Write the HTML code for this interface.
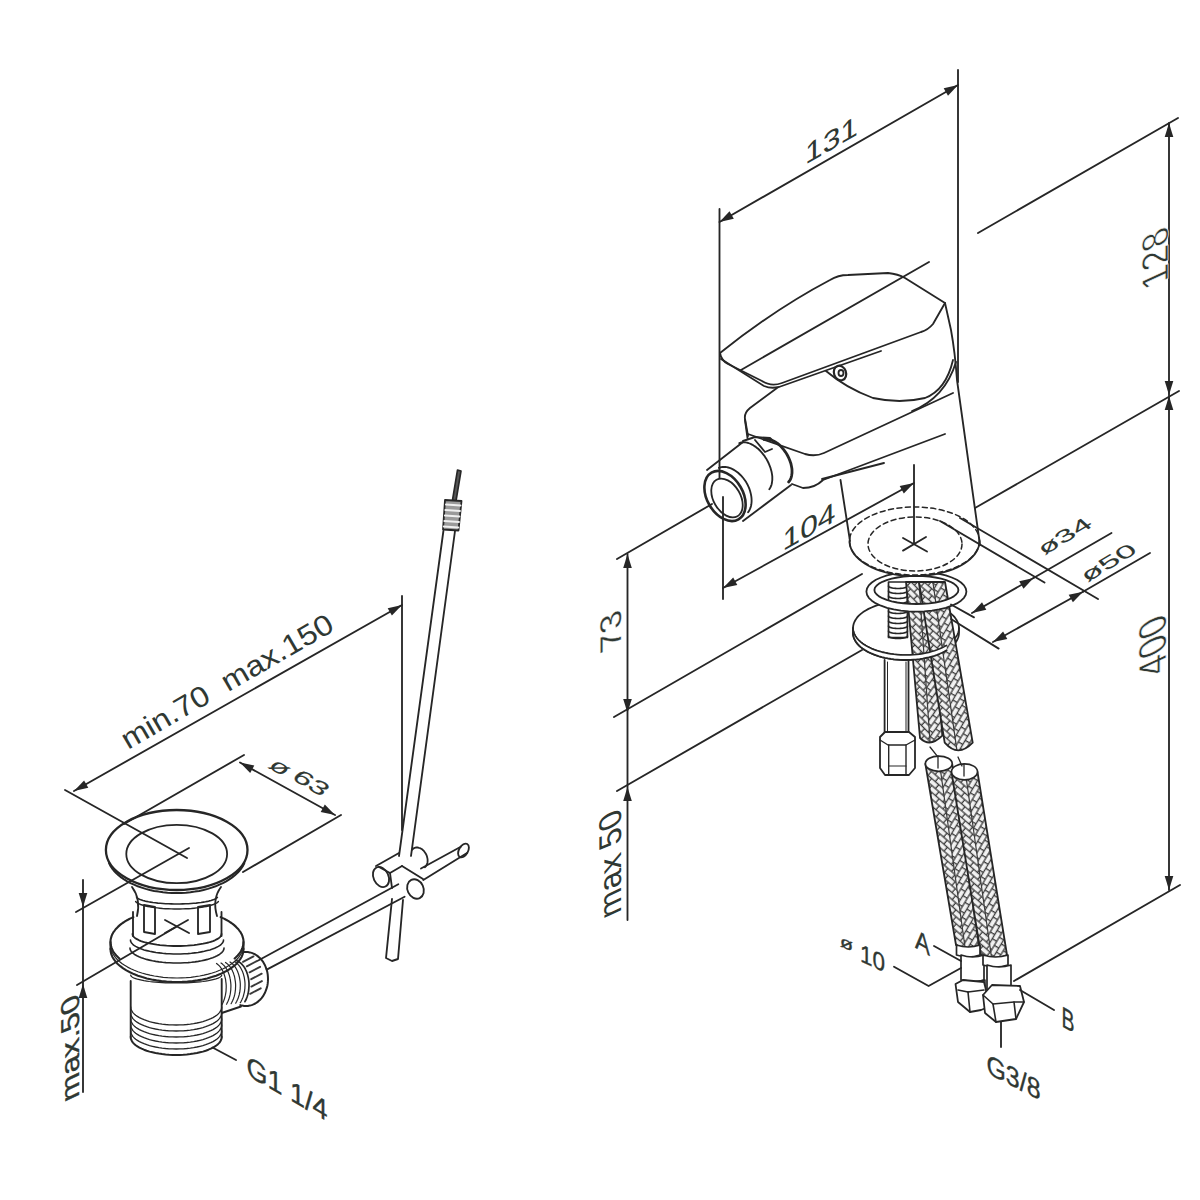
<!DOCTYPE html>
<html><head><meta charset="utf-8"><style>
html,body{margin:0;padding:0;background:#fff;}
svg{display:block;}
text{font-family:"Liberation Sans",sans-serif;}
</style></head><body>
<svg width="1200" height="1200" viewBox="0 0 1200 1200" stroke-linecap="round" stroke-linejoin="round">
<defs><clipPath id="h0"><path d="M906,582 L931,582 L942.3,735.7 Q930,748 920,738Z"/></clipPath><pattern id="p0L" patternUnits="userSpaceOnUse" width="9.5" height="10.4" patternTransform="translate(918.5 582) rotate(45.3)"><rect width="9.5" height="10.4" fill="#3c3c3c"/><rect x="0" y="0.65" width="8.2" height="3.9000000000000004" fill="#f2f2f2"/><rect x="4.75" y="5.8500000000000005" width="8.2" height="3.9000000000000004" fill="#f2f2f2"/><rect x="-4.75" y="5.8500000000000005" width="8.2" height="3.9000000000000004" fill="#f2f2f2"/></pattern><pattern id="p0R" patternUnits="userSpaceOnUse" width="9.5" height="10.4" patternTransform="translate(918.5 582) rotate(-54.7)"><rect width="9.5" height="10.4" fill="#3c3c3c"/><rect x="0" y="0.65" width="8.2" height="3.9000000000000004" fill="#f2f2f2"/><rect x="4.75" y="5.8500000000000005" width="8.2" height="3.9000000000000004" fill="#f2f2f2"/><rect x="-4.75" y="5.8500000000000005" width="8.2" height="3.9000000000000004" fill="#f2f2f2"/></pattern><clipPath id="h0L"><polygon points="900,576 918.5,576 931.1,756.9 914,758"/></clipPath><clipPath id="h0R"><polygon points="918.5,576 937,576 948.3,755.7 931.1,756.9"/></clipPath><clipPath id="h1"><path d="M919,582 L945,582 L972.7,742.7 Q958,758 944.7,742.7Z"/></clipPath><pattern id="p1L" patternUnits="userSpaceOnUse" width="9.5" height="10.4" patternTransform="translate(932 582) rotate(40.6)"><rect width="9.5" height="10.4" fill="#3c3c3c"/><rect x="0" y="0.65" width="8.2" height="3.9000000000000004" fill="#f2f2f2"/><rect x="4.75" y="5.8500000000000005" width="8.2" height="3.9000000000000004" fill="#f2f2f2"/><rect x="-4.75" y="5.8500000000000005" width="8.2" height="3.9000000000000004" fill="#f2f2f2"/></pattern><pattern id="p1R" patternUnits="userSpaceOnUse" width="9.5" height="10.4" patternTransform="translate(932 582) rotate(-59.4)"><rect width="9.5" height="10.4" fill="#3c3c3c"/><rect x="0" y="0.65" width="8.2" height="3.9000000000000004" fill="#f2f2f2"/><rect x="4.75" y="5.8500000000000005" width="8.2" height="3.9000000000000004" fill="#f2f2f2"/><rect x="-4.75" y="5.8500000000000005" width="8.2" height="3.9000000000000004" fill="#f2f2f2"/></pattern><clipPath id="h1L"><polygon points="913,576 932,576 958.7,762.7 938.7,762.7"/></clipPath><clipPath id="h1R"><polygon points="932,576 951,576 978.7,762.7 958.7,762.7"/></clipPath><clipPath id="h2"><path d="M925.4,764 L952.2,764 L979,945 Q967.5,951 956,945Z"/></clipPath><pattern id="p2L" patternUnits="userSpaceOnUse" width="9.5" height="10.4" patternTransform="translate(938.8 764) rotate(41)"><rect width="9.5" height="10.4" fill="#3c3c3c"/><rect x="0" y="0.65" width="8.2" height="3.9000000000000004" fill="#f2f2f2"/><rect x="4.75" y="5.8500000000000005" width="8.2" height="3.9000000000000004" fill="#f2f2f2"/><rect x="-4.75" y="5.8500000000000005" width="8.2" height="3.9000000000000004" fill="#f2f2f2"/></pattern><pattern id="p2R" patternUnits="userSpaceOnUse" width="9.5" height="10.4" patternTransform="translate(938.8 764) rotate(-59)"><rect width="9.5" height="10.4" fill="#3c3c3c"/><rect x="0" y="0.65" width="8.2" height="3.9000000000000004" fill="#f2f2f2"/><rect x="4.75" y="5.8500000000000005" width="8.2" height="3.9000000000000004" fill="#f2f2f2"/><rect x="-4.75" y="5.8500000000000005" width="8.2" height="3.9000000000000004" fill="#f2f2f2"/></pattern><clipPath id="h2L"><polygon points="919.4,758 938.8,758 967.5,965 950,965"/></clipPath><clipPath id="h2R"><polygon points="938.8,758 958.2,758 985,965 967.5,965"/></clipPath><clipPath id="h3"><path d="M951.5,772 L977.5,772 L1007,955 Q994,961 981,955Z"/></clipPath><pattern id="p3L" patternUnits="userSpaceOnUse" width="9.5" height="10.4" patternTransform="translate(964.5 772) rotate(40.8)"><rect width="9.5" height="10.4" fill="#3c3c3c"/><rect x="0" y="0.65" width="8.2" height="3.9000000000000004" fill="#f2f2f2"/><rect x="4.75" y="5.8500000000000005" width="8.2" height="3.9000000000000004" fill="#f2f2f2"/><rect x="-4.75" y="5.8500000000000005" width="8.2" height="3.9000000000000004" fill="#f2f2f2"/></pattern><pattern id="p3R" patternUnits="userSpaceOnUse" width="9.5" height="10.4" patternTransform="translate(964.5 772) rotate(-59.2)"><rect width="9.5" height="10.4" fill="#3c3c3c"/><rect x="0" y="0.65" width="8.2" height="3.9000000000000004" fill="#f2f2f2"/><rect x="4.75" y="5.8500000000000005" width="8.2" height="3.9000000000000004" fill="#f2f2f2"/><rect x="-4.75" y="5.8500000000000005" width="8.2" height="3.9000000000000004" fill="#f2f2f2"/></pattern><clipPath id="h3L"><polygon points="945.5,766 964.5,766 994,975 975,975"/></clipPath><clipPath id="h3R"><polygon points="964.5,766 983.5,766 1013,975 994,975"/></clipPath></defs>
<rect width="1200" height="1200" fill="#fff"/>

<path d="M853,628 L853.2,625.9 L853.7,623.8 L854.5,621.7 L855.6,619.7 L857,617.7 L858.8,615.7 L860.8,613.9 L863.1,612.1 L865.7,610.5 L868.5,608.9 L871.6,607.5 L874.8,606.2 L878.3,605 L881.9,603.9 L885.7,603.1 L889.6,602.3 L893.6,601.7 L897.7,601.3 L901.8,601.1 L906,601 L910.2,601.1 L914.3,601.3 L918.4,601.7 L922.4,602.3 L926.3,603.1 L930.1,603.9 L933.7,605 L937.2,606.2 L940.4,607.5 L943.5,608.9 L946.3,610.5 L948.9,612.1 L951.2,613.9 L953.2,615.7 L955,617.7 L956.4,619.7 L957.5,621.7 L958.3,623.8 L958.8,625.9 L959,628 L959,633 L958.8,635.1 L958.3,637.2 L957.5,639.3 L956.4,641.3 L955,643.3 L953.2,645.3 L951.2,647.1 L948.9,648.9 L946.3,650.5 L943.5,652.1 L940.4,653.5 L937.2,654.8 L933.7,656 L930.1,657.1 L926.3,657.9 L922.4,658.7 L918.4,659.3 L914.3,659.7 L910.2,659.9 L906,660 L901.8,659.9 L897.7,659.7 L893.6,659.3 L889.6,658.7 L885.7,657.9 L881.9,657.1 L878.3,656 L874.8,654.8 L871.6,653.5 L868.5,652.1 L865.7,650.5 L863.1,648.9 L860.8,647.1 L858.8,645.3 L857,643.3 L855.6,641.3 L854.5,639.3 L853.7,637.2 L853.2,635.1 L853,633Z" stroke="#262626" stroke-width="1.8" fill="#fff" />
<path d="M959,628 L958.8,630.1 L958.3,632.2 L957.5,634.3 L956.4,636.3 L955,638.3 L953.2,640.3 L951.2,642.1 L948.9,643.9 L946.3,645.5 L943.5,647.1 L940.4,648.5 L937.2,649.8 L933.7,651 L930.1,652.1 L926.3,652.9 L922.4,653.7 L918.4,654.3 L914.3,654.7 L910.2,654.9 L906,655 L901.8,654.9 L897.7,654.7 L893.6,654.3 L889.6,653.7 L885.7,652.9 L881.9,652.1 L878.3,651 L874.8,649.8 L871.6,648.5 L868.5,647.1 L865.7,645.5 L863.1,643.9 L860.8,642.1 L858.8,640.3 L857,638.3 L855.6,636.3 L854.5,634.3 L853.7,632.2 L853.2,630.1 L853,628" stroke="#262626" stroke-width="1.6" fill="none"/>
<path d="M884.6,660 L884.6,734" stroke="#262626" stroke-width="1.8" fill="none"/>
<path d="M908.5,660 L908.5,734" stroke="#262626" stroke-width="1.8" fill="none"/>
<line x1="887.5" y1="662" x2="887.5" y2="734" stroke="#262626" stroke-width="1.0"/>
<line x1="906" y1="662" x2="906" y2="734" stroke="#262626" stroke-width="1.0"/>
<path d="M880,737 L885,732 L909,732 L915,737 L915,768 L909,775 L885,775 L880,768Z" stroke="#262626" stroke-width="1.8" fill="#fff"/>
<path d="M880,740 L888,745 L906,745 L915,740" stroke="#262626" stroke-width="1.4" fill="none"/>
<line x1="888.7" y1="745" x2="888.7" y2="775" stroke="#262626" stroke-width="1.4"/>
<line x1="906" y1="745" x2="906" y2="775" stroke="#262626" stroke-width="1.4"/>
<line x1="888.7" y1="766" x2="906" y2="766" stroke="#262626" stroke-width="1.2"/>
<path d="M888.5,582 L888.5,637.5 L907.4,637.5 L907.4,582Z" stroke="#262626" stroke-width="1.7" fill="#fff" />
<path d="M907.5,586 L907.5,586.2 L907.4,586.4 L907.2,586.6 L907,586.8 L906.8,587 L906.5,587.1 L906.1,587.3 L905.7,587.5 L905.2,587.6 L904.7,587.8 L904.2,587.9 L903.6,588 L903,588.1 L902.3,588.2 L901.6,588.3 L900.9,588.4 L900.2,588.4 L899.5,588.5 L898.7,588.5 L898,588.5 L897.3,588.5 L896.5,588.5 L895.8,588.4 L895.1,588.4 L894.4,588.3 L893.7,588.2 L893,588.1 L892.4,588 L891.8,587.9 L891.3,587.8 L890.8,587.6 L890.3,587.5 L889.9,587.3 L889.5,587.1 L889.2,587 L889,586.8 L888.8,586.6 L888.6,586.4 L888.5,586.2 L888.5,586" stroke="#262626" stroke-width="1.6" fill="none"/>
<path d="M907.5,591 L907.5,591.2 L907.4,591.4 L907.2,591.6 L907,591.8 L906.8,592 L906.5,592.1 L906.1,592.3 L905.7,592.5 L905.2,592.6 L904.7,592.8 L904.2,592.9 L903.6,593 L903,593.1 L902.3,593.2 L901.6,593.3 L900.9,593.4 L900.2,593.4 L899.5,593.5 L898.7,593.5 L898,593.5 L897.3,593.5 L896.5,593.5 L895.8,593.4 L895.1,593.4 L894.4,593.3 L893.7,593.2 L893,593.1 L892.4,593 L891.8,592.9 L891.3,592.8 L890.8,592.6 L890.3,592.5 L889.9,592.3 L889.5,592.1 L889.2,592 L889,591.8 L888.8,591.6 L888.6,591.4 L888.5,591.2 L888.5,591" stroke="#262626" stroke-width="1.6" fill="none"/>
<path d="M907.5,596 L907.5,596.2 L907.4,596.4 L907.2,596.6 L907,596.8 L906.8,597 L906.5,597.1 L906.1,597.3 L905.7,597.5 L905.2,597.6 L904.7,597.8 L904.2,597.9 L903.6,598 L903,598.1 L902.3,598.2 L901.6,598.3 L900.9,598.4 L900.2,598.4 L899.5,598.5 L898.7,598.5 L898,598.5 L897.3,598.5 L896.5,598.5 L895.8,598.4 L895.1,598.4 L894.4,598.3 L893.7,598.2 L893,598.1 L892.4,598 L891.8,597.9 L891.3,597.8 L890.8,597.6 L890.3,597.5 L889.9,597.3 L889.5,597.1 L889.2,597 L889,596.8 L888.8,596.6 L888.6,596.4 L888.5,596.2 L888.5,596" stroke="#262626" stroke-width="1.6" fill="none"/>
<path d="M907.5,601 L907.5,601.2 L907.4,601.4 L907.2,601.6 L907,601.8 L906.8,602 L906.5,602.1 L906.1,602.3 L905.7,602.5 L905.2,602.6 L904.7,602.8 L904.2,602.9 L903.6,603 L903,603.1 L902.3,603.2 L901.6,603.3 L900.9,603.4 L900.2,603.4 L899.5,603.5 L898.7,603.5 L898,603.5 L897.3,603.5 L896.5,603.5 L895.8,603.4 L895.1,603.4 L894.4,603.3 L893.7,603.2 L893,603.1 L892.4,603 L891.8,602.9 L891.3,602.8 L890.8,602.6 L890.3,602.5 L889.9,602.3 L889.5,602.1 L889.2,602 L889,601.8 L888.8,601.6 L888.6,601.4 L888.5,601.2 L888.5,601" stroke="#262626" stroke-width="1.6" fill="none"/>
<path d="M907.5,606 L907.5,606.2 L907.4,606.4 L907.2,606.6 L907,606.8 L906.8,607 L906.5,607.1 L906.1,607.3 L905.7,607.5 L905.2,607.6 L904.7,607.8 L904.2,607.9 L903.6,608 L903,608.1 L902.3,608.2 L901.6,608.3 L900.9,608.4 L900.2,608.4 L899.5,608.5 L898.7,608.5 L898,608.5 L897.3,608.5 L896.5,608.5 L895.8,608.4 L895.1,608.4 L894.4,608.3 L893.7,608.2 L893,608.1 L892.4,608 L891.8,607.9 L891.3,607.8 L890.8,607.6 L890.3,607.5 L889.9,607.3 L889.5,607.1 L889.2,607 L889,606.8 L888.8,606.6 L888.6,606.4 L888.5,606.2 L888.5,606" stroke="#262626" stroke-width="1.6" fill="none"/>
<path d="M907.5,611 L907.5,611.2 L907.4,611.4 L907.2,611.6 L907,611.8 L906.8,612 L906.5,612.1 L906.1,612.3 L905.7,612.5 L905.2,612.6 L904.7,612.8 L904.2,612.9 L903.6,613 L903,613.1 L902.3,613.2 L901.6,613.3 L900.9,613.4 L900.2,613.4 L899.5,613.5 L898.7,613.5 L898,613.5 L897.3,613.5 L896.5,613.5 L895.8,613.4 L895.1,613.4 L894.4,613.3 L893.7,613.2 L893,613.1 L892.4,613 L891.8,612.9 L891.3,612.8 L890.8,612.6 L890.3,612.5 L889.9,612.3 L889.5,612.1 L889.2,612 L889,611.8 L888.8,611.6 L888.6,611.4 L888.5,611.2 L888.5,611" stroke="#262626" stroke-width="1.6" fill="none"/>
<path d="M907.5,616 L907.5,616.2 L907.4,616.4 L907.2,616.6 L907,616.8 L906.8,617 L906.5,617.1 L906.1,617.3 L905.7,617.5 L905.2,617.6 L904.7,617.8 L904.2,617.9 L903.6,618 L903,618.1 L902.3,618.2 L901.6,618.3 L900.9,618.4 L900.2,618.4 L899.5,618.5 L898.7,618.5 L898,618.5 L897.3,618.5 L896.5,618.5 L895.8,618.4 L895.1,618.4 L894.4,618.3 L893.7,618.2 L893,618.1 L892.4,618 L891.8,617.9 L891.3,617.8 L890.8,617.6 L890.3,617.5 L889.9,617.3 L889.5,617.1 L889.2,617 L889,616.8 L888.8,616.6 L888.6,616.4 L888.5,616.2 L888.5,616" stroke="#262626" stroke-width="1.6" fill="none"/>
<path d="M907.5,621 L907.5,621.2 L907.4,621.4 L907.2,621.6 L907,621.8 L906.8,622 L906.5,622.1 L906.1,622.3 L905.7,622.5 L905.2,622.6 L904.7,622.8 L904.2,622.9 L903.6,623 L903,623.1 L902.3,623.2 L901.6,623.3 L900.9,623.4 L900.2,623.4 L899.5,623.5 L898.7,623.5 L898,623.5 L897.3,623.5 L896.5,623.5 L895.8,623.4 L895.1,623.4 L894.4,623.3 L893.7,623.2 L893,623.1 L892.4,623 L891.8,622.9 L891.3,622.8 L890.8,622.6 L890.3,622.5 L889.9,622.3 L889.5,622.1 L889.2,622 L889,621.8 L888.8,621.6 L888.6,621.4 L888.5,621.2 L888.5,621" stroke="#262626" stroke-width="1.6" fill="none"/>
<path d="M907.5,626 L907.5,626.2 L907.4,626.4 L907.2,626.6 L907,626.8 L906.8,627 L906.5,627.1 L906.1,627.3 L905.7,627.5 L905.2,627.6 L904.7,627.8 L904.2,627.9 L903.6,628 L903,628.1 L902.3,628.2 L901.6,628.3 L900.9,628.4 L900.2,628.4 L899.5,628.5 L898.7,628.5 L898,628.5 L897.3,628.5 L896.5,628.5 L895.8,628.4 L895.1,628.4 L894.4,628.3 L893.7,628.2 L893,628.1 L892.4,628 L891.8,627.9 L891.3,627.8 L890.8,627.6 L890.3,627.5 L889.9,627.3 L889.5,627.1 L889.2,627 L889,626.8 L888.8,626.6 L888.6,626.4 L888.5,626.2 L888.5,626" stroke="#262626" stroke-width="1.6" fill="none"/>
<path d="M907.5,631 L907.5,631.2 L907.4,631.4 L907.2,631.6 L907,631.8 L906.8,632 L906.5,632.1 L906.1,632.3 L905.7,632.5 L905.2,632.6 L904.7,632.8 L904.2,632.9 L903.6,633 L903,633.1 L902.3,633.2 L901.6,633.3 L900.9,633.4 L900.2,633.4 L899.5,633.5 L898.7,633.5 L898,633.5 L897.3,633.5 L896.5,633.5 L895.8,633.4 L895.1,633.4 L894.4,633.3 L893.7,633.2 L893,633.1 L892.4,633 L891.8,632.9 L891.3,632.8 L890.8,632.6 L890.3,632.5 L889.9,632.3 L889.5,632.1 L889.2,632 L889,631.8 L888.8,631.6 L888.6,631.4 L888.5,631.2 L888.5,631" stroke="#262626" stroke-width="1.6" fill="none"/>
<path d="M907.5,636 L907.5,636.2 L907.4,636.4 L907.2,636.6 L907,636.8 L906.8,637 L906.5,637.1 L906.1,637.3 L905.7,637.5 L905.2,637.6 L904.7,637.8 L904.2,637.9 L903.6,638 L903,638.1 L902.3,638.2 L901.6,638.3 L900.9,638.4 L900.2,638.4 L899.5,638.5 L898.7,638.5 L898,638.5 L897.3,638.5 L896.5,638.5 L895.8,638.4 L895.1,638.4 L894.4,638.3 L893.7,638.2 L893,638.1 L892.4,638 L891.8,637.9 L891.3,637.8 L890.8,637.6 L890.3,637.5 L889.9,637.3 L889.5,637.1 L889.2,637 L889,636.8 L888.8,636.6 L888.6,636.4 L888.5,636.2 L888.5,636" stroke="#262626" stroke-width="1.6" fill="none"/>
<g clip-path="url(#h0)"><rect x="0" y="0" width="1200" height="1200" fill="url(#p0L)" clip-path="url(#h0L)"/><rect x="0" y="0" width="1200" height="1200" fill="url(#p0R)" clip-path="url(#h0R)"/><line x1="918.5" y1="576" x2="931.1" y2="756.9" stroke="#3c3c3c" stroke-width="1.2"/></g>
<path d="M906,582 L931,582 L942.3,735.7 Q930,748 920,738Z" fill="none" stroke="#262626" stroke-width="1.8"/>
<g clip-path="url(#h1)"><rect x="0" y="0" width="1200" height="1200" fill="url(#p1L)" clip-path="url(#h1L)"/><rect x="0" y="0" width="1200" height="1200" fill="url(#p1R)" clip-path="url(#h1R)"/><line x1="932" y1="576" x2="958.7" y2="762.7" stroke="#3c3c3c" stroke-width="1.2"/></g>
<path d="M919,582 L945,582 L972.7,742.7 Q958,758 944.7,742.7Z" fill="none" stroke="#262626" stroke-width="1.8"/>
<path d="M853,628 L853.1,629.6 L853.4,631.3 L853.9,632.9 L854.6,634.5 L855.5,636.1 L856.5,637.7 L857.8,639.2 L859.2,640.7 L860.8,642.1 L862.6,643.5 L864.5,644.8 L866.6,646.1 L868.9,647.3 L871.2,648.4 L873.7,649.4 L876.4,650.4 L879.1,651.3 L881.9,652.1 L884.9,652.8 L887.9,653.4 L890.9,653.9 L894.1,654.3 L897.3,654.6 L900.5,654.9 L903.7,655 L906.9,655 L910.2,654.9 L913.4,654.7 L916.6,654.5 L919.7,654.1 L922.8,653.6 L925.9,653 L928.8,652.4 L931.7,651.6 L934.5,650.8 L937.2,649.8 L939.7,648.8 L942.1,647.7 L944.4,646.6 L946.6,645.4 L946.6,650.4 L944.4,651.6 L942.1,652.7 L939.7,653.8 L937.2,654.8 L934.5,655.8 L931.7,656.6 L928.8,657.4 L925.9,658 L922.8,658.6 L919.7,659.1 L916.6,659.5 L913.4,659.7 L910.2,659.9 L906.9,660 L903.7,660 L900.5,659.9 L897.3,659.6 L894.1,659.3 L890.9,658.9 L887.9,658.4 L884.9,657.8 L881.9,657.1 L879.1,656.3 L876.4,655.4 L873.7,654.4 L871.2,653.4 L868.9,652.3 L866.6,651.1 L864.5,649.8 L862.6,648.5 L860.8,647.1 L859.2,645.7 L857.8,644.2 L856.5,642.7 L855.5,641.1 L854.6,639.5 L853.9,637.9 L853.4,636.3 L853.1,634.6 L853,633Z" stroke="#262626" stroke-width="0" fill="#fff" />
<path d="M946.6,650.4 L944.4,651.6 L942.1,652.7 L939.7,653.8 L937.2,654.8 L934.5,655.8 L931.7,656.6 L928.8,657.4 L925.9,658 L922.8,658.6 L919.7,659.1 L916.6,659.5 L913.4,659.7 L910.2,659.9 L906.9,660 L903.7,660 L900.5,659.9 L897.3,659.6 L894.1,659.3 L890.9,658.9 L887.9,658.4 L884.9,657.8 L881.9,657.1 L879.1,656.3 L876.4,655.4 L873.7,654.4 L871.2,653.4 L868.9,652.3 L866.6,651.1 L864.5,649.8 L862.6,648.5 L860.8,647.1 L859.2,645.7 L857.8,644.2 L856.5,642.7 L855.5,641.1 L854.6,639.5 L853.9,637.9 L853.4,636.3 L853.1,634.6 L853,633" stroke="#262626" stroke-width="1.8" fill="none"/>
<path d="M946.6,645.4 L944.4,646.6 L942.1,647.7 L939.7,648.8 L937.2,649.8 L934.5,650.8 L931.7,651.6 L928.8,652.4 L925.9,653 L922.8,653.6 L919.7,654.1 L916.6,654.5 L913.4,654.7 L910.2,654.9 L906.9,655 L903.7,655 L900.5,654.9 L897.3,654.6 L894.1,654.3 L890.9,653.9 L887.9,653.4 L884.9,652.8 L881.9,652.1 L879.1,651.3 L876.4,650.4 L873.7,649.4 L871.2,648.4 L868.9,647.3 L866.6,646.1 L864.5,644.8 L862.6,643.5 L860.8,642.1 L859.2,640.7 L857.8,639.2 L856.5,637.7 L855.5,636.1 L854.6,634.5 L853.9,632.9 L853.4,631.3 L853.1,629.6 L853,628" stroke="#262626" stroke-width="1.6" fill="none"/>
<path d="M966.4,591.6 L965.8,594.7 L964,597.8 L961,600.7 L956.9,603.4 L951.8,605.7 L945.8,607.8 L939.1,609.4 L931.9,610.6 L924.2,611.4 L916.4,611.6 L908.6,611.4 L900.9,610.6 L893.7,609.4 L887,607.8 L881,605.7 L875.9,603.4 L871.8,600.7 L868.8,597.8 L867,594.7 L866.4,591.6 L867,588.5 L868.8,585.4 L871.8,582.5 L875.9,579.8 L881,577.5 L887,575.4 L893.7,573.8 L900.9,572.6 L908.6,571.8 L916.4,571.6 L924.2,571.8 L931.9,572.6 L939.1,573.8 L945.8,575.4 L951.8,577.5 L956.9,579.8 L961,582.5 L964,585.4 L965.8,588.5 L966.4,591.6Z M958.4,590 L957.9,592.2 L956.3,594.3 L953.8,596.4 L950.4,598.2 L946.1,599.9 L941.1,601.3 L935.5,602.5 L929.4,603.3 L923,603.8 L916.4,604 L909.8,603.8 L903.4,603.3 L897.3,602.5 L891.7,601.3 L886.7,599.9 L882.4,598.2 L879,596.4 L876.5,594.3 L874.9,592.2 L874.4,590 L874.9,587.8 L876.5,585.7 L879,583.6 L882.4,581.8 L886.7,580.1 L891.7,578.7 L897.3,577.5 L903.4,576.7 L909.8,576.2 L916.4,576 L923,576.2 L929.4,576.7 L935.5,577.5 L941.1,578.7 L946.1,580.1 L950.4,581.8 L953.8,583.6 L956.3,585.7 L957.9,587.8 L958.4,590Z" stroke="#262626" stroke-width="1.8" fill="#fff" fill-rule="evenodd"/>
<path d="M979.5,541 L979.3,543.7 L978.7,546.5 L977.7,549.2 L976.3,551.8 L974.6,554.4 L972.4,556.9 L969.9,559.3 L967.1,561.6 L963.9,563.7 L960.5,565.7 L956.7,567.6 L952.7,569.3 L948.5,570.8 L944,572.2 L939.4,573.3 L934.6,574.3 L929.7,575 L924.7,575.6 L919.6,575.9 L914.5,576 L909.4,575.9 L904.3,575.6 L899.3,575 L894.4,574.3 L889.6,573.3 L885,572.2 L880.5,570.8 L876.3,569.3 L872.3,567.6 L868.5,565.7 L865.1,563.7 L861.9,561.6 L859.1,559.3 L856.6,556.9 L854.4,554.4 L852.7,551.8 L851.3,549.2 L850.3,546.5 L849.7,543.7 L849.5,541 L849.5,520 L980,520 Z" stroke="#262626" stroke-width="0" fill="#fff" />
<ellipse cx="914.5" cy="541" rx="65" ry="34" stroke="#262626" stroke-width="1.5" fill="none" stroke-dasharray="5 3.5"/>
<ellipse cx="915" cy="544" rx="47" ry="27" stroke="#262626" stroke-width="1.5" fill="none" stroke-dasharray="5 3.5"/>
<path d="M979.5,541 L979.3,543.7 L978.7,546.5 L977.7,549.2 L976.3,551.8 L974.6,554.4 L972.4,556.9 L969.9,559.3 L967.1,561.6 L963.9,563.7 L960.5,565.7 L956.7,567.6 L952.7,569.3 L948.5,570.8 L944,572.2 L939.4,573.3 L934.6,574.3 L929.7,575 L924.7,575.6 L919.6,575.9 L914.5,576 L909.4,575.9 L904.3,575.6 L899.3,575 L894.4,574.3 L889.6,573.3 L885,572.2 L880.5,570.8 L876.3,569.3 L872.3,567.6 L868.5,565.7 L865.1,563.7 L861.9,561.6 L859.1,559.3 L856.6,556.9 L854.4,554.4 L852.7,551.8 L851.3,549.2 L850.3,546.5 L849.7,543.7 L849.5,541" stroke="#262626" stroke-width="1.8" fill="none"/>
<line x1="903" y1="538" x2="927" y2="551.5" stroke="#262626" stroke-width="1.85"/>
<line x1="903" y1="550.6" x2="926" y2="537" stroke="#262626" stroke-width="1.85"/>
<g clip-path="url(#h2)"><rect x="0" y="0" width="1200" height="1200" fill="url(#p2L)" clip-path="url(#h2L)"/><rect x="0" y="0" width="1200" height="1200" fill="url(#p2R)" clip-path="url(#h2R)"/><line x1="938.8" y1="758" x2="967.5" y2="965" stroke="#3c3c3c" stroke-width="1.2"/></g>
<path d="M925.4,764 L952.2,764 L979,945 Q967.5,951 956,945Z" fill="none" stroke="#262626" stroke-width="1.8"/>
<g clip-path="url(#h3)"><rect x="0" y="0" width="1200" height="1200" fill="url(#p3L)" clip-path="url(#h3L)"/><rect x="0" y="0" width="1200" height="1200" fill="url(#p3R)" clip-path="url(#h3R)"/><line x1="964.5" y1="766" x2="994" y2="975" stroke="#3c3c3c" stroke-width="1.2"/></g>
<path d="M951.5,772 L977.5,772 L1007,955 Q994,961 981,955Z" fill="none" stroke="#262626" stroke-width="1.8"/>
<ellipse cx="938.8" cy="763.7" rx="13.4" ry="7.6" stroke="#262626" stroke-width="1.7" fill="#fff" />
<ellipse cx="964.5" cy="771.8" rx="13" ry="8" stroke="#262626" stroke-width="1.7" fill="#fff" />
<line x1="938" y1="756" x2="938" y2="768" stroke="#262626" stroke-width="1.3"/>
<line x1="964" y1="764" x2="964" y2="776" stroke="#262626" stroke-width="1.3"/>
<line x1="930" y1="747" x2="937.7" y2="756.7" stroke="#262626" stroke-width="1.3"/>
<line x1="958" y1="757" x2="962" y2="766" stroke="#262626" stroke-width="1.3"/>
<path d="M956.5,945 Q968.25,949 980,945 L980,955 Q968.25,959 956.5,955 Z" stroke="#262626" stroke-width="1.7" fill="#fff" />
<path d="M961,955 Q972.5,959 984,955 L984,980 Q972.5,984 961,980 Z" stroke="#262626" stroke-width="1.7" fill="#fff" />
<path d="M963,980 Q974.0,983 985,980 L985,986 Q974.0,989 963,986 Z" stroke="#262626" stroke-width="1.5" fill="#fff" />
<path d="M983,955 Q995.5,959 1008,955 L1008,965 Q995.5,969 983,965 Z" stroke="#262626" stroke-width="1.7" fill="#fff" />
<path d="M987,965 Q999.0,969 1011,965 L1011,990 Q999.0,994 987,990 Z" stroke="#262626" stroke-width="1.7" fill="#fff" />
<path d="M988,990 Q1000.0,993 1012,990 L1012,995 Q1000.0,998 988,995 Z" stroke="#262626" stroke-width="1.5" fill="#fff" />
<path d="M955.5,984 L963,980 L984,982 L986,990 L986,1008 L981,1010 L970,1012 L958,1002Z" stroke="#262626" stroke-width="1.8" fill="#fff"/>
<line x1="968" y1="992" x2="970" y2="1012" stroke="#262626" stroke-width="1.6"/>
<line x1="958" y1="990" x2="968" y2="992" stroke="#262626" stroke-width="1.6"/>
<line x1="968" y1="992" x2="984" y2="990" stroke="#262626" stroke-width="1.6"/>
<path d="M983,995 L992,985 L1020,986 L1024,1002 L1016,1019 L996,1022 L985,1013Z" stroke="#262626" stroke-width="1.8" fill="#fff"/>
<path d="M983,995 L993,1004 L1014,1002 L1024,1002" stroke="#262626" stroke-width="1.6" fill="none"/>
<line x1="993" y1="1004" x2="996" y2="1022" stroke="#262626" stroke-width="1.6"/>
<line x1="1014" y1="1002" x2="1016" y2="1019" stroke="#262626" stroke-width="1.6"/>
<line x1="934" y1="946" x2="961" y2="961" stroke="#262626" stroke-width="1.85"/>
<path d="M894,966.7 L928.6,986 L961,968" stroke="#262626" stroke-width="1.85" fill="none"/>
<line x1="1020" y1="990" x2="1054" y2="1010" stroke="#262626" stroke-width="1.85"/>
<line x1="1001" y1="1022" x2="1001" y2="1047" stroke="#262626" stroke-width="1.85"/>
<text transform="matrix(1 0.577 0 1 915 947.5)" font-size="27" text-anchor="start" fill="#2f3833" stroke="#2f3833" stroke-width="0.35" textLength="15" lengthAdjust="spacingAndGlyphs">A</text>
<text transform="matrix(1 0.4663 0 1 840 946)" font-size="17" text-anchor="start" fill="#2f3833" stroke="#2f3833" stroke-width="0.35" textLength="13" lengthAdjust="spacingAndGlyphs">ø</text>
<text transform="matrix(1 0.4663 0 1 860 961)" font-size="25" text-anchor="start" fill="#2f3833" stroke="#2f3833" stroke-width="0.35" textLength="25" lengthAdjust="spacingAndGlyphs">10</text>
<text transform="matrix(1 0.577 0 1 1061.5 1026)" font-size="29" text-anchor="start" fill="#2f3833" stroke="#2f3833" stroke-width="0.35" textLength="13" lengthAdjust="spacingAndGlyphs">B</text>
<text transform="matrix(1 0.5095 0 1 986.5 1073)" font-size="28" text-anchor="start" fill="#2f3833" stroke="#2f3833" stroke-width="0.35" textLength="54" lengthAdjust="spacingAndGlyphs">G3/8</text>
<line x1="719.5" y1="209" x2="719.5" y2="478" stroke="#262626" stroke-width="1.85"/>
<line x1="723" y1="497" x2="723" y2="599" stroke="#262626" stroke-width="1.85"/>
<line x1="958" y1="70" x2="958" y2="382" stroke="#262626" stroke-width="1.85"/>
<line x1="719.5" y1="222" x2="958" y2="85" stroke="#262626" stroke-width="1.85"/>
<path d="M719.5,222 L729.5,211.3 L733.8,218.8Z" fill="#262626"/>
<path d="M958,85 L948,95.7 L943.7,88.2Z" fill="#262626"/>
<text transform="matrix(1 -0.577 0 1 805 165)" font-size="28.5" text-anchor="start" fill="#2f3833" textLength="53" lengthAdjust="spacingAndGlyphs">131</text>
<line x1="978" y1="233" x2="1178" y2="118" stroke="#262626" stroke-width="1.85"/>
<line x1="1169" y1="123" x2="1169" y2="395" stroke="#262626" stroke-width="1.85"/>
<path d="M1169,123 L1173.3,137 L1164.7,137Z" fill="#262626"/>
<path d="M1169,395 L1164.7,381 L1173.3,381Z" fill="#262626"/>
<line x1="975" y1="508" x2="1179" y2="391" stroke="#262626" stroke-width="1.85"/>
<line x1="1169" y1="396" x2="1169" y2="890" stroke="#262626" stroke-width="1.85"/>
<path d="M1169,396 L1173.3,410 L1164.7,410Z" fill="#262626"/>
<path d="M1169,890 L1164.7,876 L1173.3,876Z" fill="#262626"/>
<text transform="matrix(0 -1 0.906 -0.423 1167.5 281)" font-size="41" text-anchor="start" fill="#2f3833" stroke="#fff" stroke-width="0.7" textLength="57" lengthAdjust="spacingAndGlyphs">128</text>
<text transform="matrix(0 -1 0.906 -0.423 1165.5 670)" font-size="43" text-anchor="start" fill="#2f3833" stroke="#fff" stroke-width="0.7" textLength="59" lengthAdjust="spacingAndGlyphs">400</text>
<line x1="1180" y1="885" x2="1014" y2="981" stroke="#262626" stroke-width="1.85"/>
<line x1="914" y1="465" x2="914" y2="544" stroke="#262626" stroke-width="1.85"/>
<line x1="723" y1="588" x2="914" y2="483" stroke="#262626" stroke-width="1.85"/>
<path d="M723,588 L733.2,577.5 L737.3,585Z" fill="#262626"/>
<path d="M914,483 L903.8,493.5 L899.7,486Z" fill="#262626"/>
<text transform="matrix(1 -0.577 0 1 782.5 551.5)" font-size="28.5" text-anchor="start" fill="#2f3833" textLength="53" lengthAdjust="spacingAndGlyphs">104</text>
<line x1="627.5" y1="554" x2="627.5" y2="920" stroke="#262626" stroke-width="1.85"/>
<line x1="617" y1="559" x2="712" y2="504" stroke="#262626" stroke-width="1.85"/>
<line x1="614" y1="717" x2="862" y2="574" stroke="#262626" stroke-width="1.85"/>
<line x1="617" y1="791" x2="862" y2="650" stroke="#262626" stroke-width="1.85"/>
<path d="M627.5,554 L631.8,568 L623.2,568Z" fill="#262626"/>
<path d="M627.5,713 L623.2,699 L631.8,699Z" fill="#262626"/>
<path d="M627.5,787 L631.8,801 L623.2,801Z" fill="#262626"/>
<text transform="matrix(0 -1 0.906 -0.423 621 645.5)" font-size="33" text-anchor="start" fill="#2f3833" stroke="#fff" stroke-width="0.3" textLength="38" lengthAdjust="spacingAndGlyphs">73</text>
<text transform="matrix(0 -1 0.906 -0.423 621 912.5)" font-size="34.7" text-anchor="start" fill="#2f3833" textLength="106" lengthAdjust="spacingAndGlyphs">max&#160;50</text>
<line x1="940" y1="521" x2="1044.5" y2="582.5" stroke="#262626" stroke-width="1.85"/>
<line x1="960" y1="518" x2="1098" y2="599" stroke="#262626" stroke-width="1.85"/>
<line x1="951" y1="604.5" x2="974" y2="617.4" stroke="#262626" stroke-width="1.85"/>
<line x1="951" y1="619" x2="998.7" y2="648.6" stroke="#262626" stroke-width="1.85"/>
<line x1="972" y1="613" x2="1033.5" y2="578" stroke="#262626" stroke-width="1.85"/>
<path d="M972,613 L982,602.3 L986.3,609.8Z" fill="#262626"/>
<path d="M1033.5,578 L1023.5,588.7 L1019.2,581.2Z" fill="#262626"/>
<line x1="1033.5" y1="578" x2="1111.5" y2="533" stroke="#262626" stroke-width="1.85"/>
<line x1="993" y1="642" x2="1083" y2="591.7" stroke="#262626" stroke-width="1.85"/>
<path d="M993,642 L1003.1,631.4 L1007.3,638.9Z" fill="#262626"/>
<path d="M1083,591.7 L1072.9,602.3 L1068.7,594.8Z" fill="#262626"/>
<line x1="1083" y1="591.7" x2="1150" y2="553" stroke="#262626" stroke-width="1.85"/>
<text transform="matrix(0.857 -0.515 0.6 0.55 1044.5 555.5)" font-size="24" text-anchor="start" fill="#2f3833" stroke="#2f3833" stroke-width="0.1" textLength="58" lengthAdjust="spacingAndGlyphs">ø34</text>
<text transform="matrix(0.857 -0.515 0.6 0.55 1087.5 582.5)" font-size="24" text-anchor="start" fill="#2f3833" stroke="#2f3833" stroke-width="0.1" textLength="60" lengthAdjust="spacingAndGlyphs">ø50</text>
<path d="M720,353 Q775,309 830,280 Q838,275 848,275 L888,273 Q898,274 905,278 L945,303 L933,324 Q928,330 921,332 L782,383 Q771,387 762,381 L728,364 Q721,360 720,353 Z" stroke="#262626" stroke-width="1.85" fill="none" />
<path d="M721,359 L764,386 Q771,389 779,387 L881,351" stroke="#262626" stroke-width="1.85" fill="none" />
<line x1="929" y1="262" x2="741" y2="370" stroke="#262626" stroke-width="1.85"/>
<ellipse cx="840" cy="373" rx="6" ry="7.5" stroke="#262626" stroke-width="2.2" fill="none" transform="rotate(-20 840 373)" />
<ellipse cx="841" cy="373" rx="2.5" ry="3" stroke="#262626" stroke-width="1.85" fill="none" />
<path d="M826,371 Q846,388 873,398 Q900,404 925,398 Q946,390 953,360" stroke="#262626" stroke-width="1.85" fill="none" />
<path d="M912,411 Q945,398 956,362" stroke="#262626" stroke-width="1.85" fill="none" />
<path d="M945,303 L951,330 Q955,352 957,380 L980,545" stroke="#262626" stroke-width="1.85" fill="none" />
<path d="M777,388 L750,408 Q744,413 745,419 L748,436" stroke="#262626" stroke-width="1.85" fill="none" />
<path d="M748,434 L805,454 Q815,457 824,453 L953,393" stroke="#262626" stroke-width="1.85" fill="none" />
<path d="M792,484 L803,488 Q815,488 823,480 L945,434" stroke="#262626" stroke-width="1.85" fill="none" />
<path d="M822,479 L884,463" stroke="#262626" stroke-width="1.85" fill="none" />
<line x1="840.5" y1="480" x2="850" y2="541" stroke="#262626" stroke-width="1.85"/>
<path d="M707,470 L743,442" stroke="#262626" stroke-width="1.85" fill="none"/>
<path d="M743,521 L791,485" stroke="#262626" stroke-width="1.85" fill="none"/>
<ellipse cx="725" cy="496" rx="18" ry="27" stroke="#262626" stroke-width="2.6" fill="none" transform="rotate(-30 725 496)" />
<ellipse cx="727" cy="498" rx="13.5" ry="21" stroke="#262626" stroke-width="1.8" fill="none" transform="rotate(-30 727 498)" />
<path d="M718.9,467.9 L720.1,467.5 L721.4,467.2 L722.6,467 L724,466.9 L725.4,467 L726.8,467.2 L728.2,467.5 L729.6,467.9 L731,468.4 L732.5,469.1 L733.9,469.9 L735.3,470.7 L736.7,471.7 L738.1,472.8 L739.4,474 L740.7,475.2 L742,476.6 L743.2,478 L744.3,479.5 L745.4,481 L746.4,482.6 L747.3,484.2 L748.1,485.9 L748.9,487.6 L749.6,489.4 L750.1,491.1 L750.6,492.9 L751,494.6 L751.3,496.3 L751.5,498 L751.6,499.7 L751.6,501.4 L751.5,503 L751.3,504.5 L751,506 L750.6,507.4 L750.1,508.7 L749.5,510 L748.8,511.2 L748.1,512.3" stroke="#262626" stroke-width="1.85" fill="none"/>
<path d="M739.3,443.1 L740.5,442.7 L741.7,442.5 L742.9,442.3 L744.2,442.3 L745.5,442.4 L746.9,442.7 L748.3,443 L749.7,443.5 L751.1,444.1 L752.5,444.8 L753.9,445.7 L755.3,446.6 L756.7,447.7 L758.1,448.8 L759.4,450 L760.7,451.4 L762,452.8 L763.2,454.3 L764.4,455.8 L765.4,457.4 L766.5,459.1 L767.4,460.8 L768.3,462.5 L769.1,464.3 L769.8,466.1 L770.5,467.9 L771,469.7 L771.5,471.4 L771.8,473.2 L772.1,474.9 L772.3,476.7 L772.3,478.3 L772.3,479.9 L772.1,481.5 L771.9,483 L771.6,484.4 L771.2,485.7 L770.6,487 L770,488.2 L769.3,489.2" stroke="#262626" stroke-width="1.85" fill="none"/>
<path d="M763.9,439.4 L765,439.2 L766.1,439.1 L767.3,439.1 L768.5,439.3 L769.7,439.5 L770.9,439.9 L772.1,440.3 L773.4,440.9 L774.7,441.6 L775.9,442.3 L777.2,443.2 L778.4,444.2 L779.6,445.2 L780.8,446.3 L781.9,447.5 L783,448.8 L784.1,450.2 L785.1,451.6 L786.1,453 L787,454.5 L787.8,456 L788.6,457.6 L789.3,459.2 L789.9,460.8 L790.5,462.4 L791,464 L791.3,465.5 L791.6,467.1 L791.9,468.7 L792,470.2 L792,471.6 L792,473.1 L791.8,474.4 L791.6,475.8 L791.3,477 L790.9,478.2 L790.5,479.3 L789.9,480.3 L789.3,481.2 L788.6,482" stroke="#262626" stroke-width="2.8" fill="none"/>
<path d="M743,441 L755,437 L770,438 L775,443" stroke="#262626" stroke-width="1.85" fill="none"/>
<path d="M755,440 L765,452 L772,449" stroke="#262626" stroke-width="1.85" fill="none"/>
<line x1="745" y1="420" x2="747.5" y2="438" stroke="#262626" stroke-width="1.85"/>
<line x1="74" y1="791" x2="402" y2="605" stroke="#262626" stroke-width="1.85"/>
<path d="M74,791 L84.1,780.4 L88.3,787.8Z" fill="#262626"/>
<path d="M402,605 L391.9,615.6 L387.7,608.2Z" fill="#262626"/>
<line x1="65" y1="790" x2="187" y2="858" stroke="#262626" stroke-width="1.85"/>
<line x1="402" y1="596" x2="402" y2="830" stroke="#262626" stroke-width="1.85"/>
<text transform="matrix(0.866 -0.5 0.5 0.866 128 750)" font-size="29" text-anchor="start" fill="#2f3833" textLength="240" lengthAdjust="spacingAndGlyphs">min.70&#160;&#160;max.150</text>
<line x1="124" y1="824" x2="244" y2="755" stroke="#262626" stroke-width="1.85"/>
<line x1="243" y1="872" x2="341" y2="815" stroke="#262626" stroke-width="1.85"/>
<line x1="240" y1="762.5" x2="335" y2="815" stroke="#262626" stroke-width="1.85"/>
<path d="M240,762.5 L254.3,765.5 L250.2,773Z" fill="#262626"/>
<path d="M335,815 L320.7,812 L324.8,804.5Z" fill="#262626"/>
<text transform="matrix(0.857 0.515 -0.6 0.55 267 767)" font-size="26" text-anchor="start" fill="#2f3833" textLength="19" lengthAdjust="spacingAndGlyphs">ø</text>
<text transform="matrix(0.857 0.515 -0.6 0.55 290.5 778.5)" font-size="26" text-anchor="start" fill="#2f3833" stroke="#2f3833" stroke-width="0.2" textLength="36" lengthAdjust="spacingAndGlyphs">63</text>
<line x1="83" y1="880" x2="83" y2="1092" stroke="#262626" stroke-width="1.85"/>
<line x1="76" y1="912" x2="189" y2="848" stroke="#262626" stroke-width="1.85"/>
<line x1="77" y1="985" x2="176" y2="927" stroke="#262626" stroke-width="1.85"/>
<path d="M83,907 L78.7,893 L87.3,893Z" fill="#262626"/>
<path d="M83,984 L87.3,998 L78.7,998Z" fill="#262626"/>
<text transform="matrix(0 -1 0.906 -0.423 79.3 1097)" font-size="28.5" text-anchor="start" fill="#2f3833" stroke="#2f3833" stroke-width="0.35" textLength="105" lengthAdjust="spacingAndGlyphs">max.50</text>
<path d="M457.5,470 L461,471 L456,501 L452.5,500Z" stroke="#262626" stroke-width="1.6" fill="#555"/>
<path d="M445,500 L461.5,501 L458.5,530.5 L443,529.5Z" stroke="#262626" stroke-width="1.8" fill="#9a9a9a"/>
<line x1="446" y1="504.5" x2="460.5" y2="505.5" stroke="#f0f0f0" stroke-width="2.0"/>
<line x1="445.4" y1="510" x2="459.9" y2="511" stroke="#f0f0f0" stroke-width="2.0"/>
<line x1="444.9" y1="515.5" x2="459.4" y2="516.5" stroke="#f0f0f0" stroke-width="2.0"/>
<line x1="444.4" y1="521" x2="458.9" y2="522" stroke="#f0f0f0" stroke-width="2.0"/>
<line x1="443.8" y1="526.5" x2="458.3" y2="527.5" stroke="#f0f0f0" stroke-width="2.0"/>
<line x1="443.4" y1="531" x2="399" y2="856" stroke="#262626" stroke-width="1.85"/>
<line x1="455" y1="531" x2="411" y2="856" stroke="#262626" stroke-width="1.85"/>
<ellipse cx="381" cy="877" rx="7.5" ry="10.5" stroke="#262626" stroke-width="1.85" fill="#fff" transform="rotate(-25 381 877)" />
<path d="M376,866 L399,853" stroke="#262626" stroke-width="1.85" fill="none"/>
<path d="M379,867 L390,873 L402,866" stroke="#262626" stroke-width="1.85" fill="none"/>
<path d="M402,866 L423,879" stroke="#262626" stroke-width="1.85" fill="none"/>
<line x1="390" y1="873" x2="392" y2="888" stroke="#262626" stroke-width="1.85"/>
<ellipse cx="415.5" cy="889" rx="8" ry="10" stroke="#262626" stroke-width="1.85" fill="#fff" transform="rotate(-25 415.5 889)" />
<path d="M412.2,849.8 L412.6,849.3 L413.1,848.8 L413.6,848.4 L414.2,848.1 L414.8,847.8 L415.5,847.6 L416.1,847.5 L416.8,847.5 L417.5,847.5 L418.2,847.6 L418.9,847.8 L419.7,848 L420.4,848.3 L421.1,848.7 L421.7,849.1 L422.4,849.6 L423.1,850.2 L423.7,850.8 L424.3,851.4 L424.8,852.2 L425.3,852.9 L425.8,853.7 L426.2,854.5 L426.6,855.3 L426.9,856.2 L427.1,857 L427.3,857.9 L427.5,858.8 L427.6,859.6 L427.6,860.5 L427.6,861.3 L427.5,862.2 L427.4,862.9 L427.2,863.7 L426.9,864.4 L426.6,865.1 L426.2,865.7 L425.8,866.3 L425.3,866.8 L424.8,867.2" stroke="#262626" stroke-width="1.8" fill="none"/>
<line x1="421" y1="868.5" x2="460.8" y2="846.7" stroke="#262626" stroke-width="1.85"/>
<line x1="423.3" y1="880" x2="467" y2="853" stroke="#262626" stroke-width="1.85"/>
<ellipse cx="463.5" cy="850.5" rx="4.5" ry="7.5" stroke="#262626" stroke-width="1.85" fill="none" transform="rotate(30 463.5 850.5)" />
<path d="M392,899 L386,958 L392,961 L398,959 L403,900" stroke="#262626" stroke-width="1.85" fill="none"/>
<ellipse cx="176.7" cy="850" rx="70.8" ry="40" stroke="#262626" stroke-width="2.3" fill="none" />
<ellipse cx="176.7" cy="854" rx="50.4" ry="29.2" stroke="#262626" stroke-width="1.8" fill="none" />
<path d="M244.3,863.4 L243,865.9 L241.4,868.3 L239.5,870.7 L237.3,873 L234.9,875.2 L232.2,877.4 L229.3,879.4 L226.2,881.3 L222.9,883.1 L219.3,884.7 L215.6,886.3 L211.7,887.6 L207.7,888.9 L203.5,890 L199.2,890.9 L194.8,891.6 L190.4,892.2 L185.8,892.7 L181.3,892.9 L176.7,893 L172.1,892.9 L167.6,892.7 L163,892.2 L158.6,891.6 L154.2,890.9 L149.9,890 L145.7,888.9 L141.7,887.6 L137.8,886.3 L134.1,884.7 L130.5,883.1 L127.2,881.3 L124.1,879.4 L121.2,877.4 L118.5,875.2 L116.1,873 L113.9,870.7 L112,868.3 L110.4,865.9 L109.1,863.4" stroke="#262626" stroke-width="2.0" fill="none"/>
<path d="M132,887 Q141,899 137,916" stroke="#262626" stroke-width="1.85" fill="none" />
<path d="M221,887 Q212,899 217,916" stroke="#262626" stroke-width="1.85" fill="none" />
<path d="M217.4,897.4 L216.8,897.9 L216,898.5 L215,899 L213.9,899.5 L212.5,900 L211,900.5 L209.3,900.9 L207.5,901.4 L205.5,901.8 L203.4,902.1 L201.1,902.5 L198.7,902.8 L196.2,903.1 L193.7,903.3 L191,903.5 L188.3,903.7 L185.5,903.8 L182.7,903.9 L179.9,904 L177,904 L174.1,904 L171.3,903.9 L168.5,903.8 L165.7,903.7 L163,903.5 L160.3,903.3 L157.8,903.1 L155.3,902.8 L152.9,902.5 L150.6,902.1 L148.5,901.8 L146.5,901.4 L144.7,900.9 L143,900.5 L141.5,900 L140.1,899.5 L139,899 L138,898.5 L137.2,897.9 L136.6,897.4" stroke="#262626" stroke-width="1.6" fill="none"/>
<path d="M218.4,901.6 L217.8,902.2 L216.9,902.8 L215.9,903.4 L214.7,903.9 L213.4,904.5 L211.8,905 L210.1,905.5 L208.2,906 L206.2,906.5 L204,906.9 L201.7,907.3 L199.3,907.6 L196.7,907.9 L194.1,908.2 L191.4,908.5 L188.6,908.7 L185.7,908.8 L182.8,908.9 L179.9,909 L177,909 L174.1,909 L171.2,908.9 L168.3,908.8 L165.4,908.7 L162.6,908.5 L159.9,908.2 L157.3,907.9 L154.7,907.6 L152.3,907.3 L150,906.9 L147.8,906.5 L145.8,906 L143.9,905.5 L142.2,905 L140.6,904.5 L139.3,903.9 L138.1,903.4 L137.1,902.8 L136.2,902.2 L135.6,901.6" stroke="#262626" stroke-width="1.4" fill="none"/>
<path d="M144,905 L155,907 L155,934 L144,932Z" stroke="#262626" stroke-width="1.85" fill="none"/>
<path d="M198,907 L210,905 L210,932 L198,934Z" stroke="#262626" stroke-width="1.85" fill="none"/>
<line x1="165" y1="920" x2="189" y2="933" stroke="#262626" stroke-width="1.85"/>
<line x1="165" y1="933" x2="188" y2="920" stroke="#262626" stroke-width="1.85"/>
<line x1="133" y1="912" x2="133" y2="936" stroke="#262626" stroke-width="1.85"/>
<line x1="221.5" y1="912" x2="221.5" y2="936" stroke="#262626" stroke-width="1.85"/>
<path d="M221.5,934 L221.4,934.9 L221,935.9 L220.3,936.8 L219.3,937.7 L218.1,938.6 L216.6,939.4 L214.9,940.3 L213,941.1 L210.8,941.8 L208.5,942.5 L205.9,943.1 L203.2,943.7 L200.3,944.2 L197.2,944.7 L194,945.1 L190.8,945.4 L187.4,945.7 L184,945.9 L180.5,946 L177,946 L173.5,946 L170,945.9 L166.6,945.7 L163.2,945.4 L160,945.1 L156.8,944.7 L153.7,944.2 L150.8,943.7 L148.1,943.1 L145.5,942.5 L143.2,941.8 L141,941.1 L139.1,940.3 L137.4,939.4 L135.9,938.6 L134.7,937.7 L133.7,936.8 L133,935.9 L132.6,934.9 L132.5,934" stroke="#262626" stroke-width="1.8" fill="none"/>
<path d="M223.5,940 L223.4,941.1 L222.9,942.2 L222.2,943.3 L221.2,944.3 L220,945.4 L218.4,946.4 L216.6,947.3 L214.6,948.2 L212.4,949.1 L209.9,949.9 L207.2,950.6 L204.3,951.3 L201.3,951.9 L198.1,952.5 L194.8,952.9 L191.4,953.3 L187.9,953.6 L184.3,953.8 L180.6,954 L177,954 L173.4,954 L169.7,953.8 L166.1,953.6 L162.6,953.3 L159.2,952.9 L155.9,952.5 L152.7,951.9 L149.7,951.3 L146.8,950.6 L144.1,949.9 L141.6,949.1 L139.4,948.2 L137.4,947.3 L135.6,946.4 L134,945.4 L132.8,944.3 L131.8,943.3 L131.1,942.2 L130.6,941.1 L130.5,940" stroke="#262626" stroke-width="1.6" fill="none"/>
<path d="M224,948 L223.9,949.2 L223.4,950.3 L222.7,951.5 L221.7,952.6 L220.4,953.7 L218.9,954.8 L217.1,955.8 L215,956.8 L212.7,957.7 L210.2,958.6 L207.5,959.4 L204.6,960.1 L201.6,960.8 L198.3,961.4 L195,961.9 L191.5,962.3 L188,962.6 L184.4,962.8 L180.7,963 L177,963 L173.3,963 L169.6,962.8 L166,962.6 L162.5,962.3 L159,961.9 L155.7,961.4 L152.4,960.8 L149.4,960.1 L146.5,959.4 L143.8,958.6 L141.3,957.7 L139,956.8 L136.9,955.8 L135.1,954.8 L133.6,953.7 L132.3,952.6 L131.3,951.5 L130.6,950.3 L130.1,949.2 L130,948" stroke="#262626" stroke-width="1.6" fill="none"/>
<path d="M119.4,958.5 L118.3,957.5 L117.3,956.5 L116.3,955.5 L115.4,954.4 L114.6,953.4 L113.8,952.3 L113.1,951.2 L112.5,950.1 L112,949 L111.6,947.9 L111.2,946.7 L110.9,945.6 L110.7,944.5 L110.6,943.4 L110.5,942.2 L110.5,941.1 L110.6,939.9 L110.8,938.8 L111.1,937.7 L111.4,936.6 L111.8,935.4 L112.3,934.3 L112.9,933.2 L113.5,932.1 L114.3,931.1 L115.1,930 L115.9,928.9 L116.9,927.9 L117.9,926.9 L119,925.9 L120.1,924.9 L121.4,923.9 L122.6,923 L124,922.1 L125.4,921.2 L126.9,920.3 L128.4,919.5 L130,918.6 L131.7,917.9 L133.4,917.1" stroke="#262626" stroke-width="2.1" fill="none"/>
<path d="M220.6,917.1 L222.3,917.9 L224,918.6 L225.6,919.5 L227.1,920.3 L228.6,921.2 L230,922.1 L231.4,923 L232.6,923.9 L233.9,924.9 L235,925.9 L236.1,926.9 L237.1,927.9 L238.1,928.9 L238.9,930 L239.7,931.1 L240.5,932.1 L241.1,933.2 L241.7,934.3 L242.2,935.4 L242.6,936.6 L242.9,937.7 L243.2,938.8 L243.4,939.9 L243.5,941.1 L243.5,942.2 L243.4,943.4 L243.3,944.5 L243.1,945.6 L242.8,946.7 L242.4,947.9 L242,949 L241.5,950.1 L240.9,951.2 L240.2,952.3 L239.4,953.4 L238.6,954.4 L237.7,955.5 L236.7,956.5 L235.7,957.5 L234.6,958.5" stroke="#262626" stroke-width="2.1" fill="none"/>
<path d="M243.5,949 L243.3,951.6 L242.7,954.2 L241.7,956.7 L240.2,959.2 L238.4,961.6 L236.3,964 L233.7,966.2 L230.8,968.4 L227.6,970.4 L224,972.3 L220.2,974.1 L216.1,975.7 L211.7,977.1 L207.2,978.4 L202.4,979.5 L197.5,980.4 L192.5,981.1 L187.4,981.6 L182.2,981.9 L177,982 L171.8,981.9 L166.6,981.6 L161.5,981.1 L156.5,980.4 L151.6,979.5 L146.8,978.4 L142.3,977.1 L137.9,975.7 L133.8,974.1 L130,972.3 L126.4,970.4 L123.2,968.4 L120.3,966.2 L117.7,964 L115.6,961.6 L113.8,959.2 L112.3,956.7 L111.3,954.2 L110.7,951.6 L110.5,949" stroke="#262626" stroke-width="2.1" fill="none"/>
<path d="M242.5,950.7 L241.5,953 L240.2,955.2 L238.7,957.4 L236.8,959.5 L234.6,961.5 L232.1,963.5 L229.4,965.3 L226.4,967.1 L223.2,968.7 L219.7,970.3 L216.1,971.7 L212.2,973 L208.2,974.1 L204,975.1 L199.7,976 L195.3,976.7 L190.8,977.3 L186.3,977.7 L181.6,977.9 L177,978 L172.4,977.9 L167.7,977.7 L163.2,977.3 L158.7,976.7 L154.3,976 L150,975.1 L145.8,974.1 L141.8,973 L137.9,971.7 L134.3,970.3 L130.8,968.7 L127.6,967.1 L124.6,965.3 L121.9,963.5 L119.4,961.5 L117.2,959.5 L115.3,957.4 L113.8,955.2 L112.5,953 L111.5,950.7" stroke="#262626" stroke-width="1.2" fill="none"/>
<line x1="110.5" y1="942" x2="110.5" y2="949" stroke="#262626" stroke-width="2"/>
<line x1="243.5" y1="942" x2="243.5" y2="949" stroke="#262626" stroke-width="2"/>
<line x1="130.7" y1="981" x2="130.7" y2="1037" stroke="#262626" stroke-width="1.9"/>
<line x1="221.7" y1="979" x2="221.7" y2="1037" stroke="#262626" stroke-width="1.9"/>
<path d="M221.7,975 L221.6,975.6 L221.1,976.3 L220.4,976.9 L219.5,977.5 L218.2,978.1 L216.7,978.6 L215,979.2 L213,979.7 L210.8,980.2 L208.4,980.7 L205.7,981.1 L202.9,981.5 L200,981.8 L196.9,982.1 L193.6,982.4 L190.3,982.6 L186.8,982.8 L183.3,982.9 L179.8,983 L176.2,983 L172.6,983 L169.1,982.9 L165.6,982.8 L162.1,982.6 L158.8,982.4 L155.5,982.1 L152.4,981.8 L149.5,981.5 L146.7,981.1 L144,980.7 L141.6,980.2 L139.4,979.7 L137.4,979.2 L135.7,978.6 L134.2,978.1 L132.9,977.5 L132,976.9 L131.3,976.3 L130.8,975.6 L130.7,975" stroke="#262626" stroke-width="1.2" fill="none"/>
<path d="M221.7,1007 L221.6,1008.4 L221.1,1009.8 L220.4,1011.2 L219.5,1012.6 L218.2,1013.9 L216.7,1015.2 L215,1016.4 L213,1017.6 L210.8,1018.7 L208.4,1019.7 L205.7,1020.7 L202.9,1021.6 L200,1022.3 L196.9,1023 L193.6,1023.6 L190.3,1024.1 L186.8,1024.5 L183.3,1024.8 L179.8,1024.9 L176.2,1025 L172.6,1024.9 L169.1,1024.8 L165.6,1024.5 L162.1,1024.1 L158.8,1023.6 L155.5,1023 L152.4,1022.3 L149.5,1021.6 L146.7,1020.7 L144,1019.7 L141.6,1018.7 L139.4,1017.6 L137.4,1016.4 L135.7,1015.2 L134.2,1013.9 L132.9,1012.6 L132,1011.2 L131.3,1009.8 L130.8,1008.4 L130.7,1007" stroke="#262626" stroke-width="1.3" fill="none"/>
<path d="M221.7,1013 L221.6,1014.4 L221.1,1015.8 L220.4,1017.2 L219.5,1018.6 L218.2,1019.9 L216.7,1021.2 L215,1022.4 L213,1023.6 L210.8,1024.7 L208.4,1025.7 L205.7,1026.7 L202.9,1027.6 L200,1028.3 L196.9,1029 L193.6,1029.6 L190.3,1030.1 L186.8,1030.5 L183.3,1030.8 L179.8,1030.9 L176.2,1031 L172.6,1030.9 L169.1,1030.8 L165.6,1030.5 L162.1,1030.1 L158.8,1029.6 L155.5,1029 L152.4,1028.3 L149.5,1027.6 L146.7,1026.7 L144,1025.7 L141.6,1024.7 L139.4,1023.6 L137.4,1022.4 L135.7,1021.2 L134.2,1019.9 L132.9,1018.6 L132,1017.2 L131.3,1015.8 L130.8,1014.4 L130.7,1013" stroke="#262626" stroke-width="1.3" fill="none"/>
<path d="M221.7,1019 L221.6,1020.4 L221.1,1021.8 L220.4,1023.2 L219.5,1024.6 L218.2,1025.9 L216.7,1027.2 L215,1028.4 L213,1029.6 L210.8,1030.7 L208.4,1031.7 L205.7,1032.7 L202.9,1033.6 L200,1034.3 L196.9,1035 L193.6,1035.6 L190.3,1036.1 L186.8,1036.5 L183.3,1036.8 L179.8,1036.9 L176.2,1037 L172.6,1036.9 L169.1,1036.8 L165.6,1036.5 L162.1,1036.1 L158.8,1035.6 L155.5,1035 L152.4,1034.3 L149.5,1033.6 L146.7,1032.7 L144,1031.7 L141.6,1030.7 L139.4,1029.6 L137.4,1028.4 L135.7,1027.2 L134.2,1025.9 L132.9,1024.6 L132,1023.2 L131.3,1021.8 L130.8,1020.4 L130.7,1019" stroke="#262626" stroke-width="1.3" fill="none"/>
<path d="M221.7,1025 L221.6,1026.4 L221.1,1027.8 L220.4,1029.2 L219.5,1030.6 L218.2,1031.9 L216.7,1033.2 L215,1034.4 L213,1035.6 L210.8,1036.7 L208.4,1037.7 L205.7,1038.7 L202.9,1039.6 L200,1040.3 L196.9,1041 L193.6,1041.6 L190.3,1042.1 L186.8,1042.5 L183.3,1042.8 L179.8,1042.9 L176.2,1043 L172.6,1042.9 L169.1,1042.8 L165.6,1042.5 L162.1,1042.1 L158.8,1041.6 L155.5,1041 L152.4,1040.3 L149.5,1039.6 L146.7,1038.7 L144,1037.7 L141.6,1036.7 L139.4,1035.6 L137.4,1034.4 L135.7,1033.2 L134.2,1031.9 L132.9,1030.6 L132,1029.2 L131.3,1027.8 L130.8,1026.4 L130.7,1025" stroke="#262626" stroke-width="1.3" fill="none"/>
<path d="M221.7,1031 L221.6,1032.4 L221.1,1033.8 L220.4,1035.2 L219.5,1036.6 L218.2,1037.9 L216.7,1039.2 L215,1040.4 L213,1041.6 L210.8,1042.7 L208.4,1043.7 L205.7,1044.7 L202.9,1045.6 L200,1046.3 L196.9,1047 L193.6,1047.6 L190.3,1048.1 L186.8,1048.5 L183.3,1048.8 L179.8,1048.9 L176.2,1049 L172.6,1048.9 L169.1,1048.8 L165.6,1048.5 L162.1,1048.1 L158.8,1047.6 L155.5,1047 L152.4,1046.3 L149.5,1045.6 L146.7,1044.7 L144,1043.7 L141.6,1042.7 L139.4,1041.6 L137.4,1040.4 L135.7,1039.2 L134.2,1037.9 L132.9,1036.6 L132,1035.2 L131.3,1033.8 L130.8,1032.4 L130.7,1031" stroke="#262626" stroke-width="1.3" fill="none"/>
<path d="M221.7,1037 L221.6,1038.4 L221.1,1039.8 L220.4,1041.2 L219.5,1042.6 L218.2,1043.9 L216.7,1045.2 L215,1046.4 L213,1047.6 L210.8,1048.7 L208.4,1049.7 L205.7,1050.7 L202.9,1051.6 L200,1052.3 L196.9,1053 L193.6,1053.6 L190.3,1054.1 L186.8,1054.5 L183.3,1054.8 L179.8,1054.9 L176.2,1055 L172.6,1054.9 L169.1,1054.8 L165.6,1054.5 L162.1,1054.1 L158.8,1053.6 L155.5,1053 L152.4,1052.3 L149.5,1051.6 L146.7,1050.7 L144,1049.7 L141.6,1048.7 L139.4,1047.6 L137.4,1046.4 L135.7,1045.2 L134.2,1043.9 L132.9,1042.6 L132,1041.2 L131.3,1039.8 L130.8,1038.4 L130.7,1037" stroke="#262626" stroke-width="2" fill="none"/>
<line x1="221.7" y1="1013" x2="241" y2="1006.5" stroke="#262626" stroke-width="1.85"/>
<path transform="translate(0.0 0)" d="M234.5,961.5 L235.2,962 L236,962.5 L236.7,963.1 L237.4,963.7 L238,964.4 L238.7,965.1 L239.3,965.9 L239.9,966.7 L240.5,967.6 L241,968.5 L241.5,969.5 L242,970.5 L242.5,971.5 L242.9,972.6 L243.3,973.7 L243.6,974.8 L243.9,976 L244.2,977.2 L244.4,978.4 L244.6,979.6 L244.8,980.8 L244.9,982.1 L245,983.3 L245,984.6 L245,985.8 L244.9,987.1 L244.9,988.3 L244.7,989.6 L244.6,990.8 L244.4,992 L244.1,993.2 L243.8,994.4 L243.5,995.5 L243.2,996.6 L242.8,997.7 L242.3,998.8 L241.9,999.8 L241.4,1000.8 L240.9,1001.8 L240.3,1002.7" stroke="#262626" stroke-width="1.2" fill="none"/>
<path transform="translate(-3.2 0)" d="M233.2,962 L233.9,962.5 L234.6,963 L235.3,963.6 L236,964.2 L236.7,964.9 L237.3,965.6 L237.9,966.4 L238.5,967.2 L239.1,968.1 L239.6,969 L240.1,970 L240.6,971 L241,972 L241.4,973.1 L241.8,974.2 L242.1,975.3 L242.4,976.5 L242.7,977.7 L242.9,978.9 L243.1,980.1 L243.3,981.3 L243.4,982.6 L243.5,983.8 L243.5,985.1 L243.5,986.3 L243.4,987.6 L243.4,988.8 L243.2,990.1 L243.1,991.3 L242.9,992.5 L242.6,993.7 L242.4,994.9 L242,996 L241.7,997.1 L241.3,998.2 L240.9,999.3 L240.4,1000.3 L240,1001.3 L239.4,1002.3 L238.9,1003.2" stroke="#262626" stroke-width="1.2" fill="none"/>
<path transform="translate(-6.4 0)" d="M231.9,962.5 L232.6,963 L233.3,963.5 L234,964.1 L234.6,964.7 L235.3,965.4 L235.9,966.1 L236.5,966.9 L237.1,967.7 L237.7,968.6 L238.2,969.5 L238.7,970.5 L239.1,971.5 L239.6,972.5 L240,973.6 L240.3,974.7 L240.7,975.8 L241,977 L241.2,978.2 L241.4,979.4 L241.6,980.6 L241.8,981.8 L241.9,983.1 L242,984.3 L242,985.6 L242,986.8 L241.9,988.1 L241.9,989.3 L241.7,990.6 L241.6,991.8 L241.4,993 L241.2,994.2 L240.9,995.4 L240.6,996.5 L240.2,997.6 L239.9,998.7 L239.4,999.8 L239,1000.8 L238.5,1001.8 L238,1002.8 L237.5,1003.7" stroke="#262626" stroke-width="1.2" fill="none"/>
<path transform="translate(-9.600000000000001 0)" d="M230.6,963 L231.3,963.5 L232,964 L232.6,964.6 L233.3,965.2 L233.9,965.9 L234.5,966.6 L235.1,967.4 L235.7,968.2 L236.2,969.1 L236.8,970 L237.2,971 L237.7,972 L238.1,973 L238.5,974.1 L238.9,975.2 L239.2,976.3 L239.5,977.5 L239.7,978.7 L240,979.9 L240.1,981.1 L240.3,982.3 L240.4,983.6 L240.5,984.8 L240.5,986.1 L240.5,987.3 L240.4,988.6 L240.4,989.8 L240.2,991.1 L240.1,992.3 L239.9,993.5 L239.7,994.7 L239.4,995.9 L239.1,997 L238.8,998.1 L238.4,999.2 L238,1000.3 L237.6,1001.3 L237.1,1002.3 L236.6,1003.3 L236.1,1004.2" stroke="#262626" stroke-width="1.2" fill="none"/>
<path transform="translate(-12.8 0)" d="M229.3,963.5 L230,964 L230.6,964.5 L231.3,965.1 L231.9,965.7 L232.6,966.4 L233.2,967.1 L233.7,967.9 L234.3,968.7 L234.8,969.6 L235.3,970.5 L235.8,971.5 L236.2,972.5 L236.7,973.5 L237,974.6 L237.4,975.7 L237.7,976.8 L238,978 L238.3,979.2 L238.5,980.4 L238.6,981.6 L238.8,982.8 L238.9,984.1 L239,985.3 L239,986.6 L239,987.8 L238.9,989.1 L238.9,990.3 L238.8,991.6 L238.6,992.8 L238.4,994 L238.2,995.2 L237.9,996.4 L237.6,997.5 L237.3,998.6 L236.9,999.7 L236.5,1000.8 L236.1,1001.8 L235.7,1002.8 L235.2,1003.8 L234.7,1004.7" stroke="#262626" stroke-width="1.2" fill="none"/>
<path d="M235.8,960.4 L236.6,960.6 L237.4,961 L238.2,961.4 L239,961.9 L239.8,962.4 L240.6,963 L241.3,963.6 L242,964.4 L242.7,965.2 L243.4,966 L244,966.9 L244.6,967.8 L245.2,968.8 L245.7,969.9 L246.2,970.9 L246.7,972 L247.1,973.2 L247.5,974.4 L247.8,975.6 L248.1,976.9 L248.4,978.1 L248.6,979.4 L248.8,980.7 L248.9,982 L249,983.4 L249,984.7 L249,986 L248.9,987.4 L248.8,988.7 L248.7,990 L248.5,991.3 L248.3,992.6 L248,993.8 L247.7,995 L247.3,996.3 L246.9,997.4 L246.4,998.6 L246,999.7 L245.4,1000.7 L244.9,1001.7" stroke="#262626" stroke-width="1.7" fill="none"/>
<path d="M244.1,952.1 L246,952 L247.9,952.1 L249.8,952.4 L251.7,952.9 L253.5,953.6 L255.3,954.5 L257,955.6 L258.6,956.9 L260.1,958.3 L261.6,959.9 L262.9,961.6 L264,963.5 L265.1,965.5 L265.9,967.6 L266.7,969.8 L267.3,972 L267.7,974.3 L267.9,976.6 L268,979 L267.9,981.4 L267.7,983.7 L267.3,986 L266.7,988.2 L265.9,990.4 L265.1,992.5 L264,994.5 L262.9,996.4 L261.6,998.1 L260.1,999.7 L258.6,1001.1 L257,1002.4 L255.3,1003.5 L253.5,1004.4 L251.7,1005.1 L249.8,1005.6 L247.9,1005.9 L246,1006 L244.1,1005.9 L242.2,1005.6 L240.3,1005.1" stroke="#262626" stroke-width="2.0" fill="none"/>
<line x1="243" y1="961.9" x2="253.5" y2="956.4" stroke="#3a3a3a" stroke-width="1.9"/>
<line x1="246.8" y1="966.3" x2="257.3" y2="960.8" stroke="#3a3a3a" stroke-width="1.9"/>
<line x1="249.6" y1="972.3" x2="260.1" y2="966.8" stroke="#3a3a3a" stroke-width="1.9"/>
<line x1="251.2" y1="979.2" x2="261.7" y2="973.7" stroke="#3a3a3a" stroke-width="1.9"/>
<line x1="251.4" y1="986.6" x2="261.9" y2="981.1" stroke="#3a3a3a" stroke-width="1.9"/>
<line x1="250.2" y1="993.8" x2="260.7" y2="988.3" stroke="#3a3a3a" stroke-width="1.9"/>
<line x1="258.7" y1="960.3" x2="398.3" y2="884.2" stroke="#262626" stroke-width="1.85"/>
<line x1="266.7" y1="969.6" x2="404.6" y2="896.7" stroke="#262626" stroke-width="1.85"/>
<line x1="212.5" y1="1047.5" x2="236" y2="1060" stroke="#262626" stroke-width="1.85"/>
<text transform="matrix(1 0.577 0 1 246.5 1075)" font-size="29" text-anchor="start" fill="#2f3833" stroke="#2f3833" stroke-width="0.35" textLength="81" lengthAdjust="spacingAndGlyphs">G1 1/4</text>
</svg>
</body></html>
